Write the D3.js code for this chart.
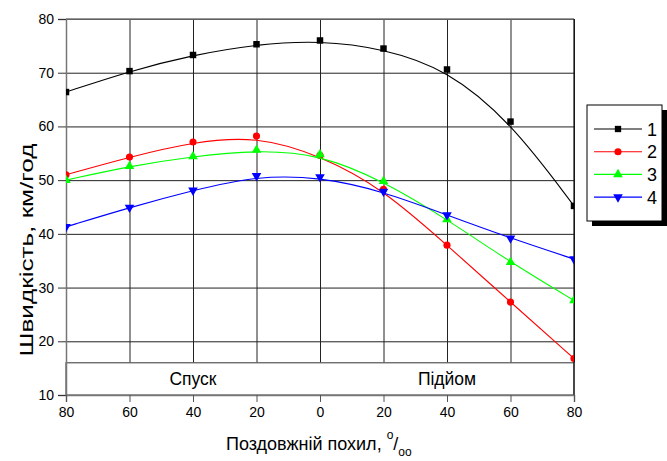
<!DOCTYPE html>
<html>
<head>
<meta charset="utf-8">
<script src="https://cdn.jsdelivr.net/npm/d3@7"></script>
<style>
  body { margin: 0; background: #fff; }
  svg { font-family: "Liberation Sans", Arial, sans-serif; }
</style>
</head>
<body>
<svg id="chart" width="667" height="461"></svg>
<script>
// grade in per-mille, negative = descent (left side)
var grade = [-80, -60, -40, -20, 0, 20, 40, 60, 80]
var speed1 = [66.4, 70.3, 73.3, 75.3, 76.0, 74.5, 70.6, 60.9, 45.2]
var speed2 = [51.0, 54.3, 57.1, 58.2, 54.6, 48.3, 37.9, 27.3, 16.8]
var speed3 = [50.0, 52.6, 54.4, 55.6, 54.8, 49.8, 42.7, 34.7, 27.6]
var speed4 = [41.3, 44.9, 48.1, 50.8, 50.6, 47.9, 43.5, 39.2, 35.3]
var seriesNames = ["1", "2", "3", "4"]
var xTicks = [-80, -60, -40, -20, 0, 20, 40, 60, 80]
var yTicks = [10, 20, 30, 40, 50, 60, 70, 80]
var bandLabels = [{x: -40, text: "Спуск"}, {x: 40, text: "Підйом"}]
var bandTopValue = 16

var colors = ["#000000", "#ff0000", "#00ff00", "#0000ff"]
var shapes = [d3.symbolSquare, d3.symbolCircle, d3.symbolTriangle, d3.symbolTriangle]
var allSpeeds = [speed1, speed2, speed3, speed4]

var svg = d3.select("#chart")
var plot = {left: 66, right: 574, top: 19, bottom: 395}

var xScale = d3.scaleLinear().domain([-80, 80]).range([plot.left, plot.right])
var yScale = d3.scaleLinear().domain([10, 80]).range([plot.bottom, plot.top])
var bandTop = yScale(bandTopValue)

// horizontal grid
svg.append("g")
  .attr("transform", "translate(" + plot.left + ",0)")
  .call(d3.axisLeft(yScale).tickValues(yTicks).tickSize(-(plot.right - plot.left)).tickFormat(""))
  .call(function (g) { g.select(".domain").remove() })
  .selectAll("line").attr("stroke", "#222")

// vertical grid, stops at the band
svg.append("g")
  .attr("transform", "translate(0," + bandTop + ")")
  .call(d3.axisBottom(xScale).tickValues(xTicks).tickSize(-(bandTop - plot.top)).tickFormat(""))
  .call(function (g) { g.select(".domain").remove() })
  .selectAll("line").attr("stroke", "#222")

// band with labels
svg.append("rect")
  .attr("x", plot.left).attr("y", bandTop)
  .attr("width", plot.right - plot.left).attr("height", plot.bottom - bandTop)
  .attr("fill", "#fff").attr("stroke", "#555").attr("stroke-width", 1.2)
svg.selectAll(".bandlabel")
  .data(bandLabels)
  .enter()
  .append("text")
  .attr("x", function (d) { return xScale(d.x) })
  .attr("y", bandTop + 22)
  .attr("text-anchor", "middle")
  .attr("font-size", 17.5)
  .text(function (d) { return d.text })

// frame
svg.append("line").attr("x1", plot.left).attr("x2", plot.right).attr("y1", plot.top).attr("y2", plot.top)
  .attr("stroke", "#777").attr("stroke-width", 1.5)
svg.append("line").attr("x1", plot.right).attr("x2", plot.right).attr("y1", plot.top).attr("y2", plot.bottom)
  .attr("stroke", "#111").attr("stroke-width", 1.2)

// axes
var yAxis = svg.append("g")
  .attr("transform", "translate(" + plot.left + ",0)")
  .call(d3.axisLeft(yScale).tickValues(yTicks).tickSize(8).tickPadding(4))
var xAxis = svg.append("g")
  .attr("transform", "translate(0," + plot.bottom + ")")
  .call(d3.axisBottom(xScale).tickValues(xTicks).tickSize(7).tickPadding(5)
    .tickFormat(function (d) { return Math.abs(d) }))
svg.selectAll(".domain").attr("stroke", "#777").attr("stroke-width", 1.5)
yAxis.selectAll(".tick line").attr("stroke", "#333")
xAxis.selectAll(".tick line").attr("stroke", "#555")
svg.selectAll(".tick text").attr("font-size", 14).attr("fill", "#000")
  .attr("font-family", "Liberation Sans, Arial, sans-serif")

// series
svg.append("clipPath").attr("id", "clip")
  .append("rect").attr("x", plot.left).attr("y", plot.top)
  .attr("width", plot.right - plot.left).attr("height", plot.bottom - plot.top)
var lines = svg.append("g").attr("clip-path", "url(#clip)")

var line = d3.line()
  .x(function (d) { return xScale(d.x) })
  .y(function (d) { return yScale(d.y) })
  .curve(d3.curveBasis)

allSpeeds.forEach(function (speeds, i) {
  var pts = grade.map(function (g, j) { return {x: g, y: speeds[j]} })
  lines.append("path")
    .datum(pts)
    .attr("d", line)
    .attr("fill", "none")
    .attr("stroke", colors[i])
    .attr("stroke-width", 1.1)
  lines.selectAll(".m" + i)
    .data(pts)
    .enter()
    .append("path")
    .attr("d", d3.symbol().type(shapes[i]).size(i == 0 ? 42 : 40))
    .attr("transform", function (d) {
      return "translate(" + xScale(d.x) + "," + yScale(d.y) + ")" + (i == 3 ? " rotate(180)" : "")
    })
    .attr("fill", colors[i])
})

// axis titles
svg.append("text")
  .attr("transform", "translate(33,250) rotate(-90)")
  .attr("text-anchor", "middle")
  .attr("font-size", 18)
  .attr("textLength", 213)
  .attr("lengthAdjust", "spacingAndGlyphs")
  .text("Швидкість, км/год")

var xt = svg.append("text")
  .attr("x", 226).attr("y", 450)
  .attr("font-size", 18)
xt.append("tspan").text("Поздовжній похил, ")
xt.append("tspan").attr("font-size", 12).attr("dy", -11).text("o")
xt.append("tspan").attr("font-size", 18).attr("dy", 11).text("/")
xt.append("tspan").attr("font-size", 12).attr("dy", 6).text("oo")

// legend
var legend = svg.append("g").attr("transform", "translate(587,105)")
legend.append("rect").attr("x", 5).attr("y", 5).attr("width", 75).attr("height", 116).attr("fill", "#000")
legend.append("rect").attr("x", 0).attr("y", 0).attr("width", 75).attr("height", 116)
  .attr("fill", "#fff").attr("stroke", "#000").attr("stroke-width", 1)
var rows = legend.selectAll(".row")
  .data(seriesNames)
  .enter()
  .append("g")
  .attr("transform", function (d, i) { return "translate(0," + (24 + i * 22.7) + ")" })
rows.append("line").attr("x1", 7).attr("x2", 55).attr("y1", 0).attr("y2", 0)
  .attr("stroke", function (d, i) { return colors[i] }).attr("stroke-width", 1.1)
rows.append("path")
  .attr("d", function (d, i) { return d3.symbol().type(shapes[i]).size(40)() })
  .attr("transform", function (d, i) { return "translate(31,0)" + (i == 3 ? " rotate(180)" : "") })
  .attr("fill", function (d, i) { return colors[i] })
rows.append("text").attr("x", 60).attr("y", 6.5).attr("font-size", 18).text(function (d) { return d })
</script>
</body>
</html>
